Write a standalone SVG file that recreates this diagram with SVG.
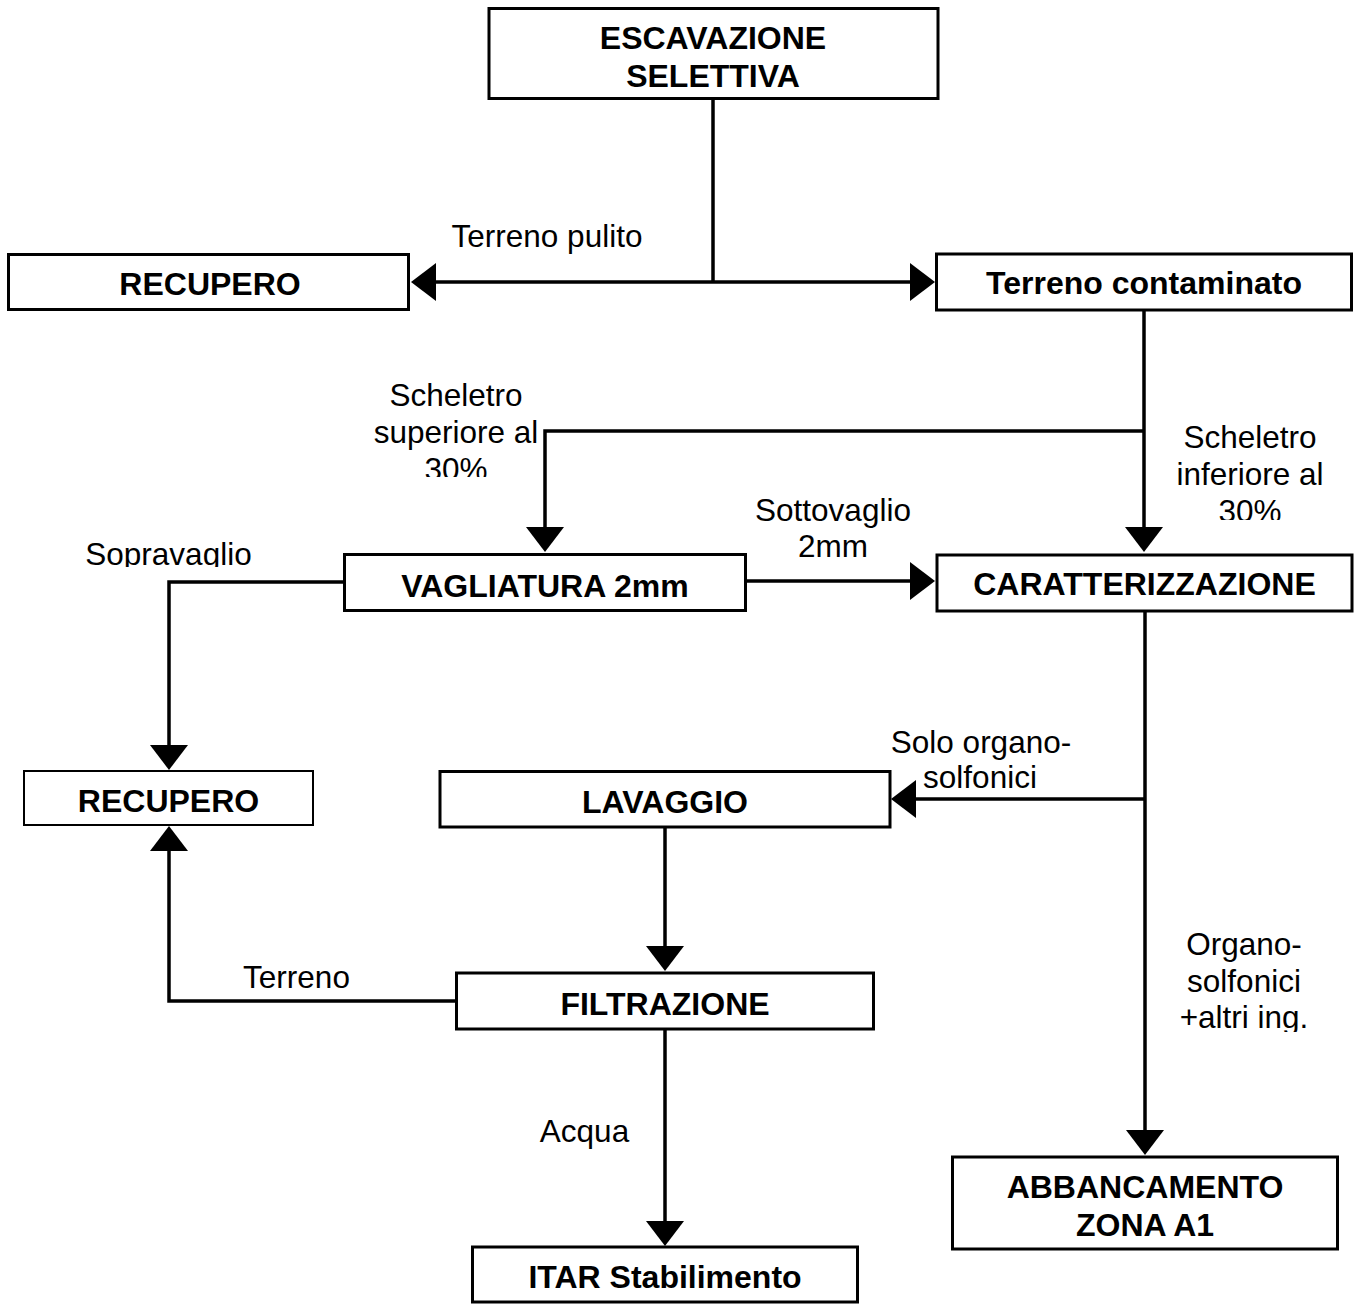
<svg xmlns="http://www.w3.org/2000/svg" width="1359" height="1304" viewBox="0 0 1359 1304">
<style>
.box{fill:#fff;stroke:#000;stroke-width:3}
.thin{stroke-width:2}
.b{font-family:"Liberation Sans",Arial,sans-serif;font-weight:bold;font-size:32px;text-anchor:middle;fill:#000}
.r{font-family:"Liberation Sans",Arial,sans-serif;font-size:31.5px;text-anchor:middle;fill:#000}
.c{fill:none;stroke:#000;stroke-width:3.5}
</style>
<defs>
<marker id="ah" markerUnits="userSpaceOnUse" markerWidth="26" markerHeight="38" viewBox="0 0 26 38" refX="21" refY="19" orient="auto">
<path d="M0,0 L25,19 L0,38 Z" fill="#000"/>
</marker>
<clipPath id="c1"><rect x="340" y="380" width="203" height="97"/></clipPath>
<clipPath id="c2"><rect x="1160" y="420" width="190" height="100"/></clipPath>
<clipPath id="c3"><rect x="60" y="520" width="220" height="47"/></clipPath>
<clipPath id="c4"><rect x="1160" y="920" width="180" height="112"/></clipPath>
</defs>
<rect width="1359" height="1304" fill="#fff"/>
<g id="connectors">
<path class="c" d="M713,99 V282"/>
<path class="c" d="M713,282 H415" marker-end="url(#ah)"/>
<path class="c" d="M713,282 H931" marker-end="url(#ah)"/>
<path class="c" d="M1144,310 V548" marker-end="url(#ah)"/>
<path class="c" d="M1144,431 H545 V548" marker-end="url(#ah)"/>
<path class="c" d="M746,581 H931" marker-end="url(#ah)"/>
<path class="c" d="M344,582 H169 V766" marker-end="url(#ah)"/>
<path class="c" d="M1145,611 V1151" marker-end="url(#ah)"/>
<path class="c" d="M1145,799 H895" marker-end="url(#ah)"/>
<path class="c" d="M665,827 V967" marker-end="url(#ah)"/>
<path class="c" d="M456,1001 H169 V830" marker-end="url(#ah)"/>
<path class="c" d="M665,1029 V1242" marker-end="url(#ah)"/>
</g>
<g id="labels">
<text class="r" x="547" y="247">Terreno pulito</text>
<g clip-path="url(#c1)">
<text class="r" x="456" y="406">Scheletro</text>
<text class="r" x="456" y="443">superiore al</text>
<text class="r" x="456" y="480">30%</text>
</g>
<g clip-path="url(#c2)">
<text class="r" x="1250" y="448">Scheletro</text>
<text class="r" x="1250" y="485">inferiore al</text>
<text class="r" x="1250" y="522">30%</text>
</g>
<text class="r" x="833" y="521">Sottovaglio</text>
<text class="r" x="833" y="557">2mm</text>
<text class="r" x="168.5" y="565" clip-path="url(#c3)">Sopravaglio</text>
<text class="r" x="981" y="753">Solo organo-</text>
<text class="r" x="980" y="788">solfonici</text>
<g clip-path="url(#c4)">
<text class="r" x="1244" y="955">Organo-</text>
<text class="r" x="1244" y="992">solfonici</text>
<text class="r" x="1244" y="1028">+altri ing.</text>
</g>
<text class="r" x="296.5" y="988">Terreno</text>
<text class="r" x="584.5" y="1142">Acqua</text>
</g>
<g id="escavazione"><rect class="box" x="489" y="8.5" width="449" height="90"/><text class="b" x="713" y="49">ESCAVAZIONE</text><text class="b" x="713" y="87">SELETTIVA</text></g>
<g id="recupero1"><rect class="box" x="8.5" y="254.5" width="400" height="55"/><text class="b" x="210" y="295">RECUPERO</text></g>
<g id="contaminato"><rect class="box" x="936.5" y="254" width="415" height="56"/><text class="b" x="1144" y="294">Terreno contaminato</text></g>
<g id="vagliatura"><rect class="box" x="344.5" y="554.5" width="401" height="56"/><text class="b" x="545" y="597">VAGLIATURA 2mm</text></g>
<g id="caratterizzazione"><rect class="box" x="937" y="555" width="415" height="56"/><text class="b" x="1144.5" y="595">CARATTERIZZAZIONE</text></g>
<g id="recupero2"><rect class="box thin" x="24" y="771" width="289" height="54"/><text class="b" x="168.5" y="812">RECUPERO</text></g>
<g id="lavaggio"><rect class="box" x="440" y="771.5" width="450" height="55.5"/><text class="b" x="665" y="813">LAVAGGIO</text></g>
<g id="filtrazione"><rect class="box" x="456.5" y="973" width="417" height="56"/><text class="b" x="665" y="1015">FILTRAZIONE</text></g>
<g id="itar"><rect class="box" x="472.5" y="1247" width="385" height="55"/><text class="b" x="665" y="1288">ITAR Stabilimento</text></g>
<g id="abbancamento"><rect class="box" x="952.5" y="1157" width="385" height="92"/><text class="b" x="1145" y="1198">ABBANCAMENTO</text><text class="b" x="1145" y="1236">ZONA A1</text></g>
</svg>
